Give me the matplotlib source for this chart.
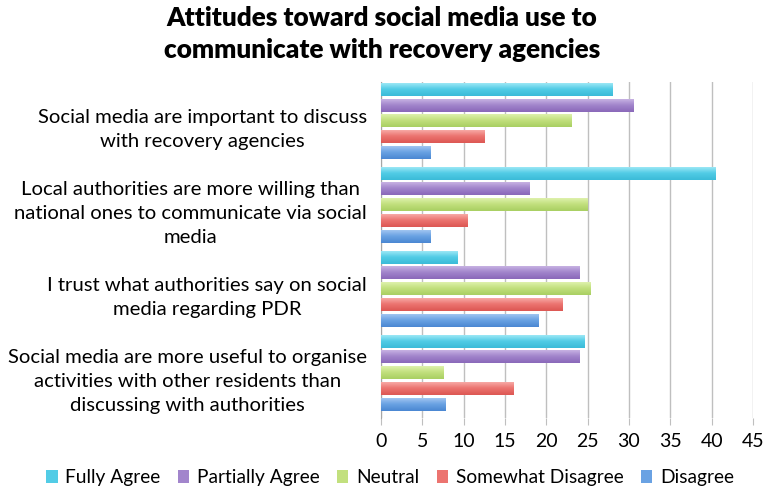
import numpy as np
import matplotlib.pyplot as plt
from matplotlib.colors import LinearSegmentedColormap
from matplotlib.patches import Patch

# Data
categories = [
    "Social media are important to discuss\nwith recovery agencies",
    "Local authorities are more willing than\nnational ones to communicate via social\nmedia",
    "I trust what authorities say on social\nmedia regarding PDR",
    "Social media are more useful to organise\nactivities with other residents than\ndiscussing with authorities",
]
series_names = ["Fully Agree", "Partially Agree", "Neutral", "Somewhat Disagree", "Disagree"]
fully_agree = [28, 40.5, 9.3, 24.6]
partially_agree = [30.5, 18, 24, 24]
neutral = [23, 25, 25.4, 7.6]
somewhat_disagree = [12.5, 10.5, 22, 16]
disagree = [6, 6, 19, 7.8]
series_values = [fully_agree, partially_agree, neutral, somewhat_disagree, disagree]

# gradient colours per series: (light top, base, dark bottom)
series_colors = [
    ("#a8ecf8", "#52cce6", "#3bbbd8"),
    ("#cdb9e6", "#a285cc", "#8a68b9"),
    ("#e3f4b4", "#c2e07e", "#a9cf62"),
    ("#f9b2ae", "#ec7470", "#dc5753"),
    ("#a9cbf3", "#6aa2e3", "#4a87d2"),
]

plt.rcParams['font.family'] = ['Lato', 'DejaVu Sans']

fig = plt.figure(figsize=(7.67, 4.91), dpi=100)
ax = fig.add_axes([0.4967, 0.1487, 0.485, 0.684])

bar_h = 0.155
slot = 0.1875
x = np.arange(len(categories))

# bars, each filled with a vertical gradient like the original
for j, (vals, cols) in enumerate(zip(series_values, series_colors)):
    ypos = x - 0.5 + 0.085 + j * slot
    bars = ax.barh(ypos, vals, height=bar_h, color=cols[1], zorder=3, linewidth=0)
    cmap = LinearSegmentedColormap.from_list("g%d" % j, [cols[0], cols[1], cols[2]])
    grad = np.linspace(0, 1, 64).reshape(-1, 1)
    for b in bars:
        x0, y0 = b.get_x(), b.get_y()
        w, h = b.get_width(), b.get_height()
        im = ax.imshow(grad, cmap=cmap, aspect='auto', origin='upper',
                       extent=(x0, x0 + w, y0 + h, y0), zorder=4,
                       interpolation='bicubic')
        im.set_clip_path(b)

ax.set_xlim(0, 45)
ax.set_ylim(3.5, -0.5)
ax.set_xticks(range(0, 46, 5))
ax.set_yticks(x)
ax.set_yticklabels(categories, fontsize=14.6, linespacing=1.5)
for lbl in ax.get_yticklabels():
    lbl.set_multialignment('center')
ax.tick_params(axis='y', length=0, pad=10)
ax.tick_params(axis='x', length=5, color='#bfbfbf', labelsize=14, pad=6)

ax.grid(axis='x', color='#bfbfbf', linewidth=1, zorder=0)
for s in ['top', 'right', 'bottom']:
    ax.spines[s].set_visible(False)
ax.spines['left'].set_color('#a6a6a6')

# title
fig.text(382 / 767, 1 - 34 / 491,
         "Attitudes toward social media use to\ncommunicate with recovery agencies",
         fontsize=18.8, fontweight='heavy', ha='center', va='center', linespacing=1.35)

handles = [Patch(facecolor=c[1], edgecolor='none') for c in series_colors]
fig.legend(handles, series_names, loc='center', bbox_to_anchor=(390 / 767, 0.027),
           ncol=5, frameon=False, fontsize=13.8, handlelength=0.6, handleheight=0.7,
           handletextpad=0.4, columnspacing=0.9)

fig.savefig("out.png", dpi=100)
